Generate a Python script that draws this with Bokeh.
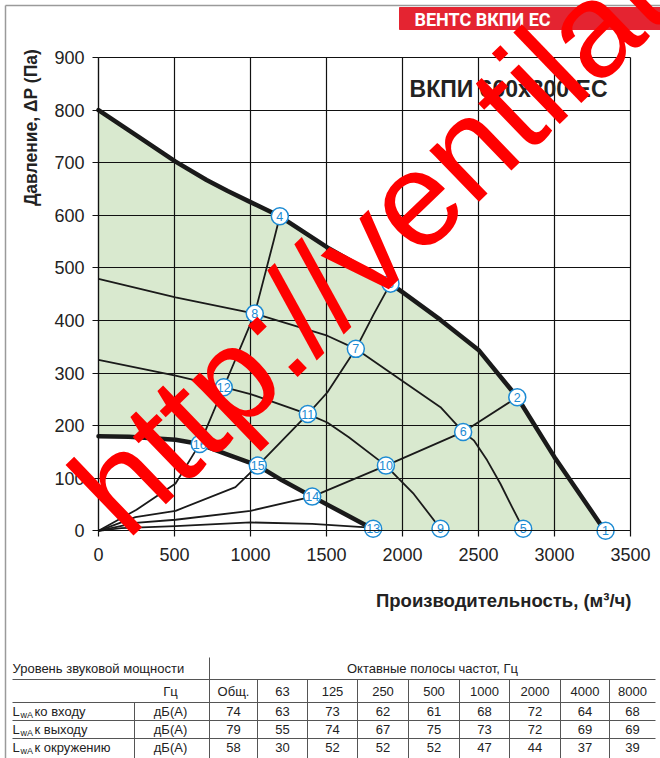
import math
from bokeh.plotting import figure
from bokeh.models import Range1d, FixedTicker, Grid
from bokeh.core.properties import value
from bokeh.embed import file_html
from bokeh.resources import INLINE

# ---------------- data ----------------
# maximum speed curve (thick upper)
max_q = [0, 269, 507, 711, 850, 1000, 1193, 1505, 1921, 2000, 2250, 2500, 2755, 3000, 3320]
max_p = [800, 748, 702, 667, 646, 625, 598, 539, 470, 454, 401, 344, 254, 140, 5]
# intermediate speed curve through 8-7-6-5
mid1_q = [0, 507, 1028, 1505, 1693, 2009, 2250, 2399, 2469, 2557, 2645, 2721, 2794]
mid1_p = [479, 444, 413, 371, 346, 283, 235, 188, 172, 134, 89, 45, 4]
# intermediate speed curve through 12-11-10-9
mid2_q = [0, 507, 824, 1000, 1377, 1505, 1647, 1891, 1965, 2074, 2250]
mid2_p = [325, 295, 273, 260, 222, 206, 178, 124, 102, 70, 4]
# minimum speed curve (thick lower)
min_q = [0, 200, 507, 666, 841, 1048, 1208, 1406, 1790]
min_p = [180, 179, 173, 165, 146, 124, 96, 65, 6]
# system curves from the origin
sys1_q = [0, 250, 507, 638, 666, 824, 1028, 1153, 1193]
sys1_p = [0, 40, 90, 152, 165, 273, 413, 552, 598]
sys2_q = [0, 243, 507, 901, 1048, 1377, 1505, 1693, 1811, 1921]
sys2_p = [0, 26, 38, 83, 124, 222, 263, 346, 412, 470]
sys3_q = [0, 243, 507, 1000, 1406, 1891, 2399, 2755]
sys3_p = [0, 15, 21, 38, 65, 124, 188, 254]
sys4_q = [0, 150, 507, 1000, 1406, 1790]
sys4_p = [0, 5, 9, 16, 13, 6]
# numbered operating points
pt_q = [3336, 2755, 1921, 1193, 2794, 2399, 1693, 1028, 2250, 1891, 1377, 824, 1807, 1406, 1048, 666]
pt_p = [0, 254, 470, 598, 4, 188, 346, 413, 4, 124, 222, 273, 4, 65, 124, 165]
pt_lab = [str(i) for i in range(1, 17)]

x_ticks = [0, 500, 1000, 1500, 2000, 2500, 3000, 3500]
y_ticks = [0, 100, 200, 300, 400, 500, 600, 700, 800, 900]

# sound power table
freq_labels = ["Общ.", "63", "125", "250", "500", "1000", "2000", "4000", "8000"]
row_labels = ["ко входу", "к выходу", "к окружению"]
lw_inlet = [74, 63, 73, 62, 61, 68, 72, 64, 68]
lw_outlet = [79, 55, 74, 67, 75, 73, 72, 69, 69]
lw_ambient = [58, 30, 52, 52, 52, 47, 44, 37, 39]

TITLE = "ВКПИ 600x300 EC"
HEADER = "ВЕНТС ВКПИ ЕС"
WATERMARK = "http://ventilation"
XTITLE = "Производительность, (м³/ч)"
YTITLE = "Давление, ΔP (Па)"

# ---------------- styles / layout ----------------
FONT = "Liberation Sans"
BLUE = "#1d8bd3"
INK = "#1a1a1a"
GRIDC = "#111111"
W, H = 660, 758
# chart frame in page pixels
FL, FR, FT, FB = 98.0, 630.0, 57.0, 530.3
sx = (FR - FL) / 3500.0
sy = (FB - FT) / 900.0
X0, X1 = -FL / sx, 3500 + (W - FR) / sx
Y0, Y1 = -(H - FB) / sy, 900 + FT / sy


def Y(ry):
    return H - ry


p = figure(width=W, height=H, x_range=Range1d(X0, X1), y_range=Range1d(Y0, Y1),
           output_backend="svg", toolbar_location=None, min_border=0)
p.title.visible = False
p.outline_line_color = None
p.background_fill_color = "white"
p.border_fill_color = "white"
p.extra_x_ranges = {"px": Range1d(0, W)}
p.extra_y_ranges = {"px": Range1d(0, H)}
PX = dict(x_range_name="px", y_range_name="px")

# axes drawn at the data origin
p.xaxis.fixed_location = 0
p.yaxis.fixed_location = 0
p.xaxis.bounds = (0, 3500)
p.yaxis.bounds = (0, 900)
p.xaxis.ticker = FixedTicker(ticks=x_ticks)
p.yaxis.ticker = FixedTicker(ticks=y_ticks)
p.axis.axis_line_color = GRIDC
p.axis.axis_line_width = 1.2
p.axis.major_tick_line_color = GRIDC
p.axis.major_tick_line_width = 1.2
p.axis.major_tick_out = 6
p.axis.major_tick_in = 0
p.axis.minor_tick_out = 0
p.axis.minor_tick_in = 0
p.axis.major_label_text_font = FONT
p.axis.major_label_text_font_size = "18px"
p.axis.major_label_text_color = "#222222"
p.xaxis.major_label_standoff = 11
p.yaxis.major_label_standoff = 8

# green operating area
fill_x = max_q + [max_q[-1], min_q[-1]] + min_q[::-1]
fill_y = max_p + [0, 0] + min_p[::-1]
patch = p.patch(fill_x, fill_y, fill_color="#d9e9cf", line_color=None)
patch.level = "underlay"

# grid restricted to the chart area
if "cross_bounds" in Grid.properties():
    p.xgrid.ticker = FixedTicker(ticks=x_ticks)
    p.ygrid.ticker = FixedTicker(ticks=y_ticks)
    p.xgrid.bounds = (0, 3500)
    p.ygrid.bounds = (0, 900)
    p.xgrid.cross_bounds = (0, 900)
    p.ygrid.cross_bounds = (0, 3500)
    p.grid.grid_line_color = GRIDC
    p.grid.grid_line_alpha = 1.0
    p.grid.grid_line_width = 1.2
else:
    p.grid.visible = False
    p.segment(x0=x_ticks, x1=x_ticks, y0=[0] * len(x_ticks), y1=[900] * len(x_ticks),
              line_color=GRIDC, line_width=1.2)
    p.segment(x0=[0] * len(y_ticks), x1=[3500] * len(y_ticks), y0=y_ticks, y1=y_ticks,
              line_color=GRIDC, line_width=1.2)

# curves
for xs, ys in [(sys1_q, sys1_p), (sys2_q, sys2_p), (sys3_q, sys3_p), (sys4_q, sys4_p),
               (mid1_q, mid1_p), (mid2_q, mid2_p)]:
    p.line(xs, ys, line_color=INK, line_width=1.8, line_join="round")
for xs, ys in [(max_q, max_p), (min_q, min_p)]:
    p.line(xs, ys, line_color=INK, line_width=4.5, line_join="round", line_cap="round")

# numbered points
p.scatter(pt_q, pt_p, size=17, fill_color="white", line_color=BLUE, line_width=1.5)
p.text(pt_q, pt_p, text=pt_lab, text_font=value(FONT), text_font_size="12.5px",
       text_color=BLUE, text_align="center", text_baseline="middle")

# model title inside the chart
p.text([607], [Y(88)], text=[TITLE], text_font=value(FONT), text_font_style="bold",
       text_font_size="23px", text_color="#222222", text_align="right",
       text_baseline="middle", **PX)

# axis titles
p.text([631], [Y(600)], text=[XTITLE], text_font=value(FONT), text_font_style="bold",
       text_font_size="18.5px", text_color="#222222", text_align="right",
       text_baseline="middle", **PX)
p.text([30], [Y(127)], text=[YTITLE], text_font=value(FONT), text_font_style="bold",
       text_font_size="17.5px", text_color="#222222", text_align="center",
       text_baseline="middle", angle=math.pi / 2, **PX)

# page frame lines
p.segment(x0=[5, 5], x1=[660, 5], y0=[Y(5), Y(5)], y1=[Y(5), Y(758)],
          line_color="#9a9a9a", line_width=1.5, **PX)

# red header
p.quad(left=[399], right=[660], top=[Y(7)], bottom=[Y(29)], color="#e42431", **PX)
p.text([414], [Y(18.5)], text=[HEADER], text_font=value("Roboto"), text_font_style="bold",
       text_font_size="18px", text_color="white", text_baseline="middle", **PX)

# sound power table
col_edges = [209, 257, 307, 357, 408, 459, 509, 560, 609, 655]
col_mid = [(a + b) / 2 for a, b in zip(col_edges[:-1], col_edges[1:])]
row_y = [711, 729, 747]
LC = "#555555"
hl = [679, 702, 720, 738]
p.segment(x0=[12] * 4, x1=[655] * 4, y0=[Y(v) for v in hl], y1=[Y(v) for v in hl],
          line_color=LC, line_width=1, **PX)
p.segment(x0=[209], x1=[209], y0=[Y(657)], y1=[Y(758)], line_color=LC, line_width=1, **PX)
p.segment(x0=col_edges[1:-1], x1=col_edges[1:-1], y0=[Y(679)] * 8, y1=[Y(758)] * 8,
          line_color=LC, line_width=1, **PX)
p.segment(x0=[134], x1=[134], y0=[Y(702)], y1=[Y(758)], line_color=LC, line_width=1, **PX)

tk = dict(text_font=value(FONT), text_font_size="13px", text_color="#222222",
          text_baseline="middle", **PX)
p.text([12], [Y(668)], text=["Уровень звуковой мощности"], text_align="left", **tk)
p.text([432], [Y(668)], text=["Октавные полосы частот, Гц"], text_align="center", **tk)
p.text([170], [Y(691)], text=["Гц"], text_align="center", **tk)
p.text(col_mid, [Y(691)] * 9, text=freq_labels, text_align="center", **tk)
p.text([12] * 3, [Y(v) for v in row_y], text=["L"] * 3, text_align="left", **tk)
p.text([20] * 3, [Y(v + 3) for v in row_y], text=["wA"] * 3, text_align="left",
       text_font=value(FONT), text_font_size="9px", text_color="#222222",
       text_baseline="middle", **PX)
p.text([34] * 3, [Y(v) for v in row_y], text=row_labels, text_align="left", **tk)
p.text([170] * 3, [Y(v) for v in row_y], text=["дБ(А)"] * 3, text_align="center", **tk)
for yy, vals in zip(row_y, [lw_inlet, lw_outlet, lw_ambient]):
    p.text(col_mid, [Y(yy)] * 9, text=[str(v) for v in vals], text_align="center", **tk)

# red watermark on top of everything
wm = p.text([94], [Y(508)], text=[WATERMARK], angle=math.radians(44),
            text_font=value(FONT), text_font_size="135px", text_color="#ff0000",
            text_align="left", text_baseline="alphabetic", **PX)
wm.level = "overlay"

open("out.html", "w").write(file_html(p, INLINE))
